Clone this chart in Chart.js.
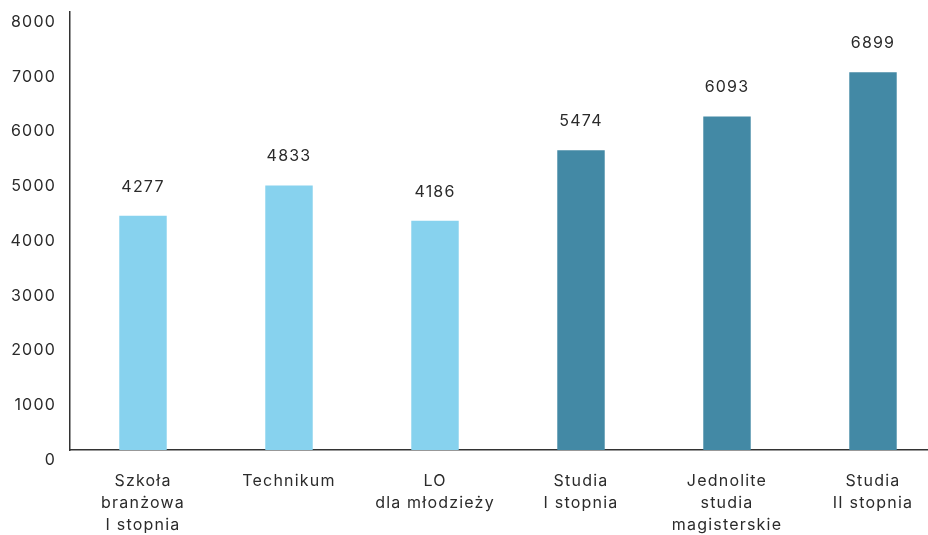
<!DOCTYPE html>
<html><head><meta charset="utf-8">
<script src="https://cdn.jsdelivr.net/npm/chart.js@4/dist/chart.umd.min.js"></script>
<style>
html,body{margin:0;padding:0;background:#fff;overflow:hidden;}
#wrap{width:928px;height:535px;overflow:hidden;position:relative;}
canvas{display:block;}
</style></head>
<body><div id="wrap"><canvas id="c" width="950" height="535" style="width:950px;height:535px"></canvas></div>
<script>
const categories = [
  ["Szkoła","branżowa","I stopnia"],
  ["Technikum"],
  ["LO","dla młodzieży"],
  ["Studia","I stopnia"],
  ["Jednolite","studia","magisterskie"],
  ["Studia","II stopnia"]
];
const values = [4277, 4833, 4186, 5474, 6093, 6899];
const barColors = ["#87d2ee","#87d2ee","#87d2ee","#4389a5","#4389a5","#4389a5"];
const yTicks = [0,1000,2000,3000,4000,5000,6000,7000,8000];

const FONT = "Inter, 'Open Sans', sans-serif";
const TEXT = "#2b2b2b";
const SPACING = "1.2px";

const spacingPlugin = {
  id:'spacing',
  beforeUpdate(chart){ chart.ctx.letterSpacing = SPACING; },
  beforeLayout(chart){ chart.ctx.letterSpacing = SPACING; },
  beforeDraw(chart){ chart.ctx.letterSpacing = SPACING; }
};

const valueLabels = {
  id:'valueLabels',
  afterDatasetsDraw(chart){
    const ctx = chart.ctx;
    const meta = chart.getDatasetMeta(0);
    ctx.save();
    ctx.letterSpacing = SPACING;
    ctx.font = "16px " + FONT;
    ctx.fillStyle = TEXT;
    ctx.textAlign = 'center';
    ctx.textBaseline = 'middle';
    meta.data.forEach((bar,i)=>{
      ctx.fillText(String(values[i]), bar.x, bar.y - 29);
    });
    ctx.restore();
  }
};

new Chart(document.getElementById('c'), {
  type:'bar',
  data:{
    labels:categories,
    datasets:[{data:values, backgroundColor:barColors, borderWidth:0,
      categoryPercentage:1.0, barPercentage:0.325}]
  },
  options:{
    responsive:false,
    animation:false,
    devicePixelRatio:1,
    layout:{padding:{top:12,right:4,left:0,bottom:0}},
    plugins:{legend:{display:false},tooltip:{enabled:false}},
    scales:{
      x:{
        afterFit(scale){ scale.height = 85; scale.paddingLeft = 0; scale.paddingRight = 0; },
        grid:{display:false, drawTicks:false},
        border:{display:true,color:'#333333',width:1.5},
        ticks:{color:TEXT,font:{family:FONT,size:16,lineHeight:1.375},padding:20,maxRotation:0,autoSkip:false}
      },
      y:{
        min:0,max:8000,
        afterBuildTicks(scale){ scale.ticks = yTicks.map(v=>({value:v})); },
        afterFit(scale){ scale.width = 70; scale.paddingTop = 0; scale.paddingBottom = 0; },
        grid:{display:false, drawTicks:false},
        border:{display:true,color:'#333333',width:1.5},
        ticks:{color:TEXT,font:{family:FONT,size:16},padding:14,labelOffset:10,
          callback:(v)=>String(v)}
      }
    }
  },
  plugins:[spacingPlugin, valueLabels]
});
</script></body></html>
